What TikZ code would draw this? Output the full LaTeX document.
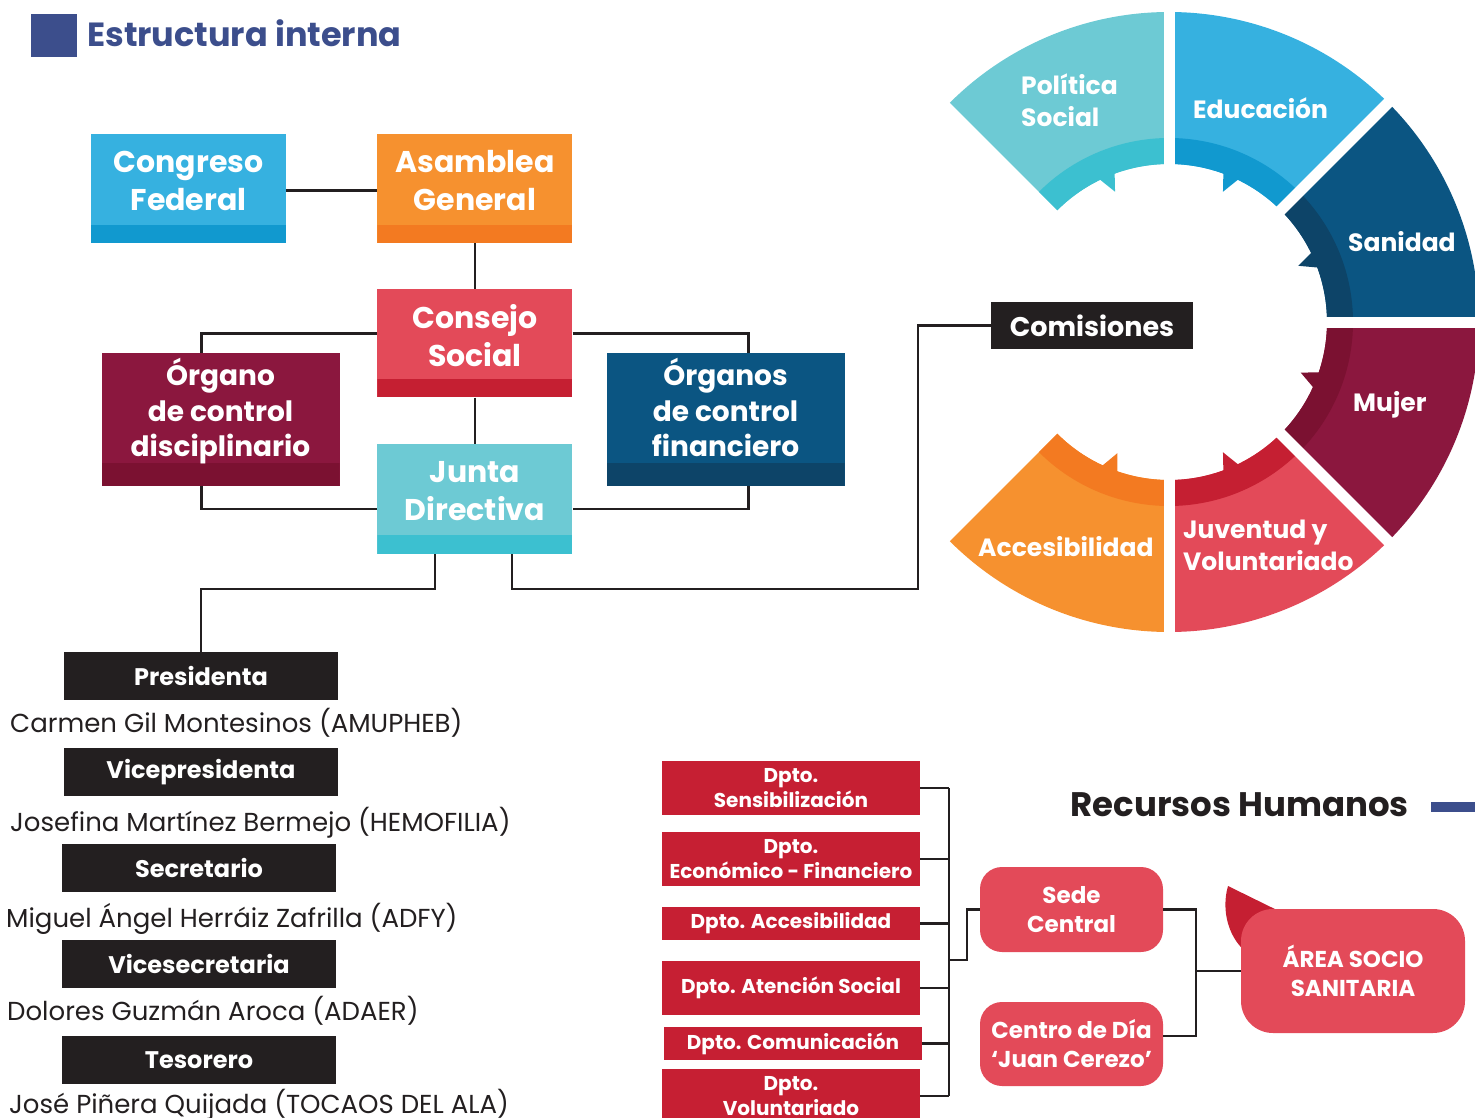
\documentclass[tikz,border=0pt]{standalone}
\usepackage{fontspec}
\setmainfont{Poppins}
\usetikzlibrary{positioning,calc}

\definecolor{ink}{HTML}{231F20}
\definecolor{titleblue}{HTML}{3C4E8C}
\definecolor{cyanmain}{HTML}{6DCAD4}
\definecolor{cyanband}{HTML}{3CC0D0}
\definecolor{bluemain}{HTML}{36B1E0}
\definecolor{blueband}{HTML}{1199CF}
\definecolor{navymain}{HTML}{0B5582}
\definecolor{navyband}{HTML}{0D4468}
\definecolor{winemain}{HTML}{8B173E}
\definecolor{wineband}{HTML}{7B1131}
\definecolor{redmain}{HTML}{E34A59}
\definecolor{redband}{HTML}{C51F32}
\definecolor{orgmain}{HTML}{F6912F}
\definecolor{orgband}{HTML}{F37A21}
\definecolor{dptored}{HTML}{C61F33}

\begin{document}
\begin{tikzpicture}[x=1pt,y=-1pt,node distance=46pt]
	\tikzset{orgbox/.style n args={3}{rectangle, inner sep=0pt, minimum width=195pt, minimum height=109pt, fill=#1,
		path picture={\fill[#2] (path picture bounding box.south west) rectangle ([yshift=#3]path picture bounding box.south east);}}}
	\tikzstyle{orglabel}=[text=white, align=center, yshift=8pt, font=\bfseries\fontsize{30}{38}\selectfont]
	\tikzstyle{ctrllabel}=[orglabel, font=\bfseries\fontsize{28}{35.5}\selectfont]
	\tikzstyle{ringtext}=[anchor=west, inner sep=0pt, text=white, align=left, font=\bfseries\fontsize{25}{32}\selectfont]
	\tikzstyle{rolebox}=[rectangle, fill=ink, text=white, inner sep=0pt, minimum width=274pt, minimum height=48pt, font=\bfseries\fontsize{24}{28}\selectfont]
	\tikzstyle{person}=[anchor=base west, inner sep=0pt, text=ink, font=\fontsize{26}{30}\selectfont]
	\tikzstyle{dpto}=[rectangle, fill=dptored, text=white, inner sep=0pt, minimum width=258pt, align=center, font=\bfseries\fontsize{20}{25}\selectfont]
	\tikzstyle{sedebox}=[rectangle, rounded corners=22pt, fill=redmain, text=white, inner sep=0pt, minimum width=183pt, minimum height=85pt, align=center, font=\bfseries\fontsize{23}{29}\selectfont]
	\tikzstyle{line}=[draw=ink, line width=2.5pt]

	\useasboundingbox (0,0) rectangle (1475,1118);
	\clip (0,0) rectangle (1475,1118);

	% title
	\fill[titleblue] (31,14) rectangle (77,57);
	\node[anchor=base west, inner sep=0pt, text=titleblue, font=\bfseries\fontsize{33.5}{40}\selectfont] (title) at (87,47) {Estructura interna};

	% governing bodies
	\node[orgbox={bluemain}{blueband}{18pt}, label={[orglabel]center:{Congreso\\Federal}}] (congreso) at (188.5,188.5) {};
	\node[orgbox={orgmain}{orgband}{18pt}, label={[orglabel]center:{Asamblea\\General}}] (asamblea) [right=91pt of congreso] {};
	\node[orgbox={redmain}{redband}{18pt}, minimum height=108pt, label={[orglabel]center:{Consejo\\Social}}] (consejo) [below=of asamblea] {};
	\node[orgbox={cyanmain}{cyanband}{19pt}, minimum height=110pt, label={[orglabel]center:{Junta\\Directiva}}] (junta) [below=of consejo] {};
	\node[orgbox={winemain}{wineband}{23pt}, minimum width=238pt, minimum height=133pt, label={[ctrllabel]center:{Órgano\\de control\\disciplinario}}] (organo) at (220.5,419.5) {};
	\node[orgbox={navymain}{navyband}{23pt}, minimum width=238pt, minimum height=133pt, label={[ctrllabel, yshift=4pt]center:{Órganos\\de control\\financiero}}] (financiero) at (725.5,419.5) {};

	\draw[line] ([yshift=-2pt]congreso.east) -- ([yshift=-2pt]asamblea.west);
	\draw[line] (asamblea.south) -- (consejo.north);
	\draw[line] (consejo.south) -- (junta.north);
	\draw[line] ([yshift=10pt]consejo.west) -| ([xshift=-19pt]organo.north);
	\draw[line] ([xshift=-19pt]organo.south) |- ([yshift=-10pt]junta.west);
	\draw[line] ([yshift=10pt]consejo.east) -| ([xshift=23pt]financiero.north);
	\draw[line] ([xshift=23pt]financiero.south) |- ([yshift=-10pt]junta.east);

	% comisiones ring
	\begin{scope}[shift={(1169,322)},y=1pt]
		\foreach \segA/\segB/\cmain/\cband/\tth/\tdir in {90/135/cyanmain/cyanband/110/1, 45/90/bluemain/blueband/70/-1, 0/45/navymain/navyband/26/-1, -45/0/winemain/wineband/-18.5/-1, -90/-45/redmain/redband/-70/1, -135/-90/orgmain/orgband/-109/-1}{
			\fill[\cmain] (\segA:310) arc[start angle=\segA, end angle=\segB, radius=310] -- (\segB:158) arc[start angle=\segB, end angle=\segA, radius=158] -- cycle;
			\fill[\cband] (\segA:184) arc[start angle=\segA, end angle=\segB, radius=184] -- (\segB:158) arc[start angle=\segB, end angle=\segA, radius=158] -- cycle;
			\fill[\cband] (\tth:159) -- ({\tth+2.5*\tdir}:141) -- ({\tth+6*\tdir}:159) -- cycle;
		}
		\foreach \g in {-90,-45,0,45,90}
			\draw[white, line width=11pt] (\g:135) -- (\g:320);
	\end{scope}
	\node[ringtext] (politica) at (1021,100) {Política\\Social};
	\node[ringtext] (educacion) at (1193,108) {Educación};
	\node[ringtext] (sanidad) at (1348,242) {Sanidad};
	\node[ringtext] (mujer) at (1353,405) {Mujer};
	\node[ringtext] (juventud) at (1183,545) {Juventud y\\Voluntariado};
	\node[ringtext] (accesibilidad) at (978,547) {Accesibilidad};

	\node[rolebox, minimum width=202pt, minimum height=47pt, font=\bfseries\fontsize{27}{30}\selectfont] (comisiones) at (1092,325.5) {Comisiones};
	\draw[line] ([xshift=37pt]junta.south) -- ++(0,35) -| ($(comisiones.west)+(-73,0)$) -- (comisiones.west);

	% junta directiva
	\node[rolebox] (presidenta) at (201,676) {Presidenta};
	\node[rolebox] (vicepresidenta) at (201,772) {Vicepresidenta};
	\node[rolebox] (secretario) at (199,868) {Secretario};
	\node[rolebox] (vicesecretaria) at (199,964) {Vicesecretaria};
	\node[rolebox] (tesorero) at (199,1060) {Tesorero};
	\draw[line] ([xshift=-40pt]junta.south) -- ++(0,35) -| (presidenta.north);

	\node[person] (carmen) at (10,732) {Carmen Gil Montesinos (AMUPHEB)};
	\node[person] (josefina) at (10,831) {Josefina Martínez Bermejo (HEMOFILIA)};
	\node[person] (miguel) at (6,927) {Miguel Ángel Herráiz Zafrilla (ADFY)};
	\node[person] (dolores) at (7,1020) {Dolores Guzmán Aroca (ADAER)};
	\node[person] (jose) at (9,1113) {José Piñera Quijada (TOCAOS DEL ALA)};

	% recursos humanos
	\node[anchor=east, inner sep=0pt, text=ink, font=\bfseries\fontsize{34}{40}\selectfont] (rrhh) at (1409,805) {Recursos Humanos};
	\fill[titleblue] (1431,802) rectangle (1475,812);

	\node[dpto, minimum height=54pt] (d1) at (791,788) {Dpto.\\Sensibilización};
	\node[dpto, minimum height=54pt] (d2) at (791,859) {Dpto.\\Económico - Financiero};
	\node[dpto, minimum height=33pt] (d3) at (791,923.5) {Dpto. Accesibilidad};
	\node[dpto, minimum height=54pt] (d4) at (791,988) {Dpto. Atención Social};
	\node[dpto, minimum height=33pt] (d5) at (793,1043.5) {Dpto. Comunicación};
	\node[dpto, minimum height=54pt] (d6) at (791,1096) {Dpto.\\Voluntariado};
	\coordinate (bus) at (949,960);
	\draw[line] (d1.east -| bus) -- (d6.east -| bus);
	\foreach \d in {d1,d2,d3,d4,d5,d6}
		\draw[line] (\d.east) -- (\d.east -| bus);

	\node[sedebox] (sede) at (1071.5,909.5) {Sede\\Central};
	\node[sedebox, minimum height=84pt] (centro) at (1071.5,1044) {Centro de Día\\‘Juan Cerezo’};
	\draw[line] (bus) -- ++(18,0) |- (sede.west);

	\fill[redband] (1228,886) -- (1285,914) -- (1250,955) .. controls (1228,940) and (1221,910) .. (1228,886);
	\node[sedebox, rounded corners=32pt, minimum width=224pt, minimum height=124pt] (area) at (1353,971) {ÁREA SOCIO\\SANITARIA};
	\draw[line] (sede.east) -- ++(33,0) |- ([yshift=8pt]centro.east);
	\draw[line] (area.west) -- ++(-45,0);
\end{tikzpicture}
\end{document}
